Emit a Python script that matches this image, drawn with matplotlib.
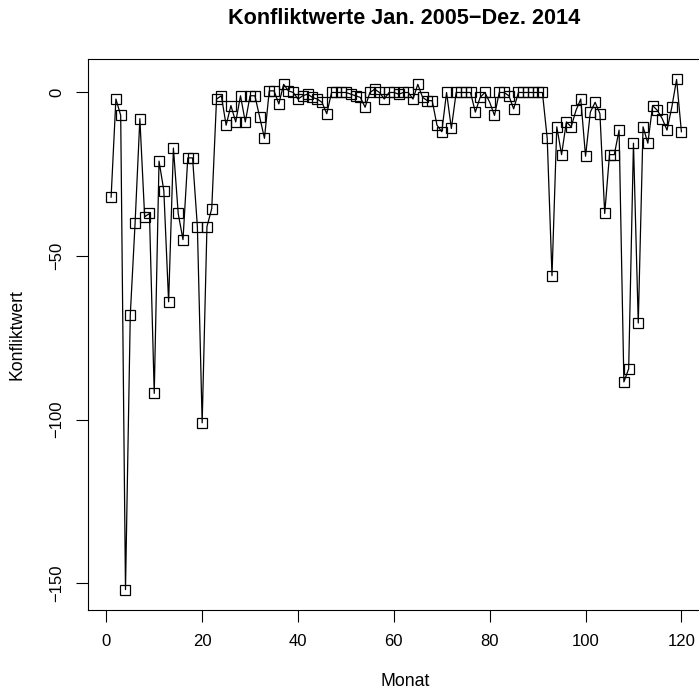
import numpy as np
import matplotlib
matplotlib.use('Agg')
import matplotlib.pyplot as plt

plt.rcParams['font.family'] = ['Liberation Sans', 'DejaVu Sans']

# Monat 1..120 (Jan. 2005 - Dez. 2014)
monat = np.arange(1, 121)

# Konfliktwerte je Monat
werte_2005_2006 = [-32, -2, -7, -152, -68, -40, -8, -38, -37, -92, -21, -30,
                   -64, -17, -37, -45, -20, -20, -41, -101, -41, -35.5, -2, -1]
werte_2007_2008 = [-10, -4, -9, -1, -9, -1, -1, -7.5, -14, 0.5, 0.5, -3.5,
                   2.5, 0.5, 0, -2, -1, -0.5, -1.5, -2, -3, -6.5, 0, 0]
werte_2009_2010 = [0, 0, -0.5, -1, -1.5, -4.5, 0, 1, 0, -2, 0, 0,
                   -0.5, 0, 0, -2, 2.5, -1.5, -2.5, -2.5, -10, -12, 0, -11]
werte_2011_2012 = [0, 0, 0, 0, -6, -1.5, 0, -3, -7, 0, 0, -1,
                   -5, 0, 0, 0, 0, 0, 0, -14, -56, -10.5, -19, -9]
werte_2013_2014 = [-10.5, -5.5, -2, -19.5, -6, -3, -6.5, -37, -19, -19, -11.5, -88.5,
                   -84.5, -15.5, -70.5, -10.5, -15.5, -4, -5.5, -8, -11.5, -4.5, 4, -12]

werte = werte_2005_2006 + werte_2007_2008 + werte_2009_2010 + werte_2011_2012 + werte_2013_2014

x_ticks = [0, 20, 40, 60, 80, 100, 120]
y_ticks = [0, -50, -100, -150]


def plot_konflikt(x, y):
    fig = plt.figure(figsize=(6.99, 6.97), dpi=100)
    # plot region like R base graphics, right edge runs past the image
    ax = fig.add_axes([88.3 / 699, 87 / 697, 615.9 / 699, 551 / 697])
    ax.plot(x, y, color='black', linewidth=0.9, marker='s', markersize=6.5,
            markerfacecolor='none', markeredgecolor='black', markeredgewidth=0.9)
    ax.margins(0.04)
    ax.set_xticks(x_ticks)
    ax.set_yticks(y_ticks)
    ax.set_yticklabels([str(t).replace('-', '\u2212') for t in y_ticks],
                       rotation=90, va='center')
    ax.set_xticklabels([str(t) for t in x_ticks])
    ax.tick_params(direction='out', length=8.5, width=0.8, labelsize=12,
                   pad=9, colors='black')
    for s in ax.spines.values():
        s.set_linewidth(0.8)

    ax.set_xlabel('Monat', fontsize=12.7)
    ax.xaxis.label.set_va('center')
    ax.xaxis.set_label_coords((405 - 88.3) / 615.9, -(681 - 610) / 551)
    ax.set_ylabel('Konfliktwert', fontsize=12.7)
    ax.yaxis.label.set_va('center')
    ax.yaxis.set_label_coords(-(88.3 - 17) / 615.9, 0.5)

    fig.text(404 / 699, 1 - 18 / 697, 'Konfliktwerte Jan. 2005\u2212Dez. 2014',
             ha='center', va='center', fontsize=15.6, fontweight='bold')
    plt.savefig('out.png', dpi=100)


if __name__ == '__main__':
    plot_konflikt(monat, werte)
